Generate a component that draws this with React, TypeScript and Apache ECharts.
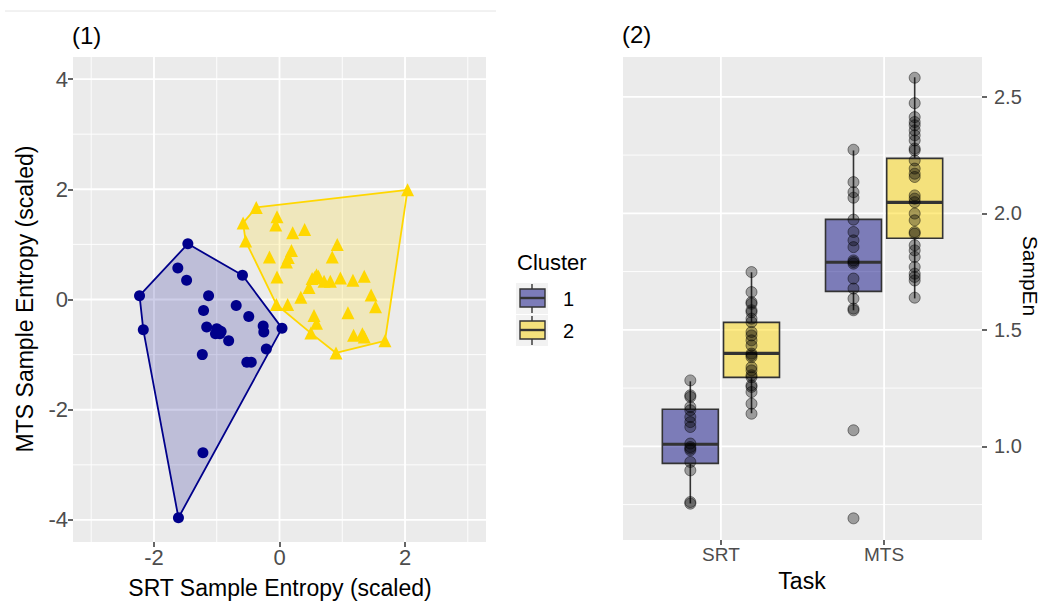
import React, { useEffect, useRef } from "react";
import * as echarts from "echarts";

// ---------- Panel (1) data: scaled sample entropy ----------
const cluster1SRT = [-1.46, -1.62, -1.48, -2.23, -2.17, -0.59, -1.13, -1.21, -0.69, -0.49, -0.26, -0.25, 0.04, -1.16, -0.97, -0.93, -1.0, -0.95, -1.02, -0.81, -1.23, -0.21, -0.52, -0.45, -1.22, -1.61];
const cluster1MTS = [1.01, 0.57, 0.35, 0.07, -0.55, 0.44, 0.07, -0.2, -0.11, -0.31, -0.48, -0.59, -0.52, -0.5, -0.56, -0.58, -0.53, -0.62, -0.62, -0.75, -1.0, -0.9, -1.14, -1.14, -2.78, -3.96];

const cluster2SRT = [2.04, -0.37, -0.58, -0.54, -0.04, -0.06, 0.21, 0.4, 0.92, 0.84, -0.16, 0.19, 0.14, 0.11, -0.04, 0.59, 0.62, 0.56, 0.52, 0.71, 0.81, 0.47, 0.97, 1.17, 1.35, 0.34, 1.46, 1.53, -0.05, 0.13, 0.55, 0.59, 0.5, 1.09, 1.18, 1.32, 1.35, 1.68, 0.9];
const cluster2MTS = [1.99, 1.67, 1.39, 1.06, 1.5, 1.35, 1.21, 1.27, 1.0, 0.77, 0.77, 0.89, 0.76, 0.68, 0.41, 0.45, 0.42, 0.4, 0.38, 0.33, 0.33, 0.22, 0.39, 0.35, 0.42, 0.04, 0.08, -0.13, -0.09, -0.09, -0.29, -0.43, -0.61, -0.24, -0.65, -0.62, -0.68, -0.75, -0.97];

const p1XTicks = [-2, 0, 2];
const p1YTicks = [-4, -2, 0, 2, 4];
const p1XMinor = [-3, -1, 1, 3];
const p1YMinor = [-3, -1, 1, 3];

// ---------- Panel (2) data: SampEn by task and cluster ----------
const tasks = ["SRT", "MTS"];
const taskPos = [1, 2];
const srtCluster1 = [1.283, 1.219, 1.212, 1.169, 1.155, 1.126, 1.104, 1.083, 1.012, 0.997, 0.99, 0.983, 0.933, 0.897, 0.761, 0.754];
const srtCluster2 = [1.748, 1.662, 1.619, 1.612, 1.584, 1.576, 1.548, 1.533, 1.491, 1.476, 1.455, 1.433, 1.398, 1.391, 1.383, 1.34, 1.326, 1.305, 1.297, 1.262, 1.255, 1.233, 1.183, 1.14];
const mtsCluster1 = [2.273, 2.134, 2.091, 2.067, 1.973, 1.92, 1.884, 1.855, 1.798, 1.791, 1.784, 1.72, 1.677, 1.634, 1.591, 1.584, 1.069, 0.691];
const mtsCluster2 = [2.582, 2.473, 2.413, 2.392, 2.378, 2.356, 2.335, 2.313, 2.278, 2.27, 2.227, 2.192, 2.17, 2.156, 2.077, 2.063, 2.048, 1.999, 1.97, 1.92, 1.913, 1.863, 1.841, 1.813, 1.77, 1.741, 1.727, 1.712, 1.638];
// [lower whisker, q1, median, q3, upper whisker]
const srtBox1 = [0.755, 0.927, 1.009, 1.159, 1.279];
const srtBox2 = [1.142, 1.296, 1.399, 1.532, 1.747];
const mtsBox1 = [1.584, 1.665, 1.79, 1.974, 2.27];
const mtsBox2 = [1.635, 1.893, 2.047, 2.236, 2.584];
const p2YTicks = [1.0, 1.5, 2.0, 2.5];
const p2YMinor = [0.75, 1.25, 1.75, 2.25];

const DODGE = 0.1875;
const BOX_W = 0.343;

const BLUE = "#00008B";
const GOLD = "#FFD700";
const BLUE_BOX = "rgba(0,0,128,0.47)";
const GOLD_BOX = "rgba(255,215,0,0.47)";
const FONT = "'Liberation Sans', Arial, sans-serif";

function zip(a: number[], b: number[]) {
  return a.map((v, i) => [v, b[i]]);
}

function convexHull(pts: number[][]) {
  const p = pts.slice().sort((a, b) => a[0] - b[0] || a[1] - b[1]);
  const cross = (o: number[], a: number[], b: number[]) =>
    (a[0] - o[0]) * (b[1] - o[1]) - (a[1] - o[1]) * (b[0] - o[0]);
  const lower: number[][] = [];
  for (const q of p) {
    while (lower.length >= 2 && cross(lower[lower.length - 2], lower[lower.length - 1], q) <= 0) lower.pop();
    lower.push(q);
  }
  const upper: number[][] = [];
  for (let i = p.length - 1; i >= 0; i--) {
    const q = p[i];
    while (upper.length >= 2 && cross(upper[upper.length - 2], upper[upper.length - 1], q) <= 0) upper.pop();
    upper.push(q);
  }
  upper.pop();
  lower.pop();
  return lower.concat(upper);
}

function gridLines(gi: number, values: number[], vertical: boolean, other: number, width: number) {
  return {
    type: "custom",
    xAxisIndex: gi,
    yAxisIndex: gi,
    z: 1,
    silent: true,
    data: values.map((v) => (vertical ? [v, other] : [other, v])),
    renderItem: (params: any, api: any) => {
      const cs = params.coordSys;
      const c = api.coord([api.value(0), api.value(1)]);
      const shape = vertical
        ? { x1: c[0], y1: cs.y, x2: c[0], y2: cs.y + cs.height }
        : { x1: cs.x, y1: c[1], x2: cs.x + cs.width, y2: c[1] };
      return { type: "line", shape, style: { stroke: "#ffffff", lineWidth: width } };
    },
  };
}

function hullSeries(hull: number[][], stroke: string, fill: string) {
  return {
    type: "custom",
    xAxisIndex: 0,
    yAxisIndex: 0,
    z: 2,
    silent: true,
    data: hull,
    renderItem: (params: any, api: any) => {
      if (params.dataIndex !== 0) return null;
      const points = hull.map((p) => api.coord(p));
      return {
        type: "polygon",
        shape: { points },
        style: { fill, stroke, lineWidth: 1.8, lineJoin: "round" },
      };
    },
  };
}

function boxSeries(items: number[][], fill: string) {
  return {
    type: "custom",
    xAxisIndex: 1,
    yAxisIndex: 1,
    z: 2,
    silent: true,
    data: items,
    renderItem: (params: any, api: any) => {
      const x = api.value(0);
      const cx = api.coord([x, 1])[0];
      const hw = api.size([BOX_W, 0])[0] / 2;
      const y = (i: number) => api.coord([x, api.value(i)])[1];
      const yMin = y(1), yQ1 = y(2), yMed = y(3), yQ3 = y(4), yMax = y(5);
      const line = { stroke: "#333333", lineWidth: 1.6 };
      return {
        type: "group",
        children: [
          { type: "line", shape: { x1: cx, y1: yMax, x2: cx, y2: yQ3 }, style: line },
          { type: "line", shape: { x1: cx, y1: yQ1, x2: cx, y2: yMin }, style: line },
          { type: "rect", shape: { x: cx - hw, y: yQ3, width: hw * 2, height: yQ1 - yQ3 }, style: { fill, stroke: "#333333", lineWidth: 1.6 } },
          { type: "line", shape: { x1: cx - hw, y1: yMed, x2: cx + hw, y2: yMed }, style: { stroke: "#333333", lineWidth: 3.2 } },
        ],
      };
    },
  };
}

function legendKey(y0: number, fill: string, label: string) {
  return {
    type: "group",
    children: [
      { type: "rect", shape: { x: 516, y: y0, width: 32, height: 31 }, style: { fill: "#f2f2f2" } },
      { type: "line", shape: { x1: 532, y1: y0 + 1, x2: 532, y2: y0 + 30 }, style: { stroke: "#333", lineWidth: 1.4 } },
      { type: "rect", shape: { x: 520, y: y0 + 6, width: 25, height: 18 }, style: { fill: "#ebebeb" } },
      { type: "rect", shape: { x: 520, y: y0 + 6, width: 25, height: 18 }, style: { fill, stroke: "#333", lineWidth: 1.4 } },
      { type: "line", shape: { x1: 520, y1: y0 + 15, x2: 545, y2: y0 + 15 }, style: { stroke: "#333", lineWidth: 2.4 } },
      { type: "text", x: 563, y: y0 + 16, style: { text: label, font: `20px ${FONT}`, fill: "#000", verticalAlign: "middle", align: "left" } },
    ],
  };
}

export default function App() {
  const ref = useRef<HTMLDivElement>(null);
  useEffect(() => {
    if (!ref.current) return;
    const chart = echarts.init(ref.current, undefined, { renderer: "svg" });
    const pts1 = zip(cluster1SRT, cluster1MTS);
    const pts2 = zip(cluster2SRT, cluster2MTS);
    const hull1 = convexHull(pts1);
    const hull2 = convexHull(pts2);

    const box1 = [
      [taskPos[0] - DODGE, ...srtBox1],
      [taskPos[1] - DODGE, ...mtsBox1],
    ];
    const box2 = [
      [taskPos[0] + DODGE, ...srtBox2],
      [taskPos[1] + DODGE, ...mtsBox2],
    ];
    const dots = [
      ...srtCluster1.map((v) => [taskPos[0] - DODGE, v]),
      ...srtCluster2.map((v) => [taskPos[0] + DODGE, v]),
      ...mtsCluster1.map((v) => [taskPos[1] - DODGE, v]),
      ...mtsCluster2.map((v) => [taskPos[1] + DODGE, v]),
    ];

    const tick = { show: true, length: 5, lineStyle: { color: "#333333", width: 1.5 } };
    const option: any = {
      animation: false,
      textStyle: { fontFamily: FONT },
      grid: [
        { left: 73, top: 57, width: 413, height: 485, show: true, backgroundColor: "#ebebeb", borderWidth: 0 },
        { left: 623, top: 57, width: 359, height: 483, show: true, backgroundColor: "#ebebeb", borderWidth: 0 },
      ],
      xAxis: [
        {
          gridIndex: 0, type: "value", min: -3.29, max: 3.29,
          axisLine: { show: false, onZero: false },
          axisTick: { ...tick, customValues: p1XTicks },
          axisLabel: { customValues: p1XTicks, fontSize: 22, color: "#4d4d4d", margin: 4 },
          splitLine: { show: false },
        },
        {
          gridIndex: 1, type: "value", min: 0.4, max: 2.6,
          axisLine: { show: false, onZero: false },
          axisTick: { ...tick, customValues: taskPos },
          axisLabel: {
            customValues: taskPos, fontSize: 19, color: "#4d4d4d", margin: 5,
            formatter: (v: number) => tasks[taskPos.indexOf(Math.round(v))] ?? "",
          },
          splitLine: { show: false },
        },
      ],
      yAxis: [
        {
          gridIndex: 0, type: "value", min: -4.4, max: 4.4,
          axisLine: { show: false, onZero: false },
          axisTick: { ...tick, customValues: p1YTicks },
          axisLabel: { customValues: p1YTicks, fontSize: 22, color: "#4d4d4d", margin: 5 },
          splitLine: { show: false },
        },
        {
          gridIndex: 1, type: "value", position: "right", min: 0.598, max: 2.671,
          axisLine: { show: false, onZero: false },
          axisTick: { ...tick, customValues: p2YTicks },
          axisLabel: {
            customValues: p2YTicks, fontSize: 20, color: "#4d4d4d", margin: 12,
            formatter: (v: number) => v.toFixed(1),
          },
          splitLine: { show: false },
        },
      ],
      series: [
        gridLines(0, p1XMinor, true, 0, 0.9),
        gridLines(0, p1YMinor, false, 0, 0.9),
        gridLines(0, p1XTicks, true, 0, 1.8),
        gridLines(0, p1YTicks, false, 0, 1.8),
        gridLines(1, p2YMinor, false, 1.5, 0.9),
        gridLines(1, taskPos, true, 1.5, 1.8),
        gridLines(1, p2YTicks, false, 1.5, 1.8),
        hullSeries(hull1, BLUE, "rgba(0,0,139,0.19)"),
        hullSeries(hull2, GOLD, "rgba(255,215,0,0.2)"),
        {
          type: "scatter", xAxisIndex: 0, yAxisIndex: 0, z: 3, silent: true,
          symbol: "circle", symbolSize: 11, data: pts1,
          itemStyle: { color: BLUE, opacity: 1 },
        },
        {
          type: "scatter", xAxisIndex: 0, yAxisIndex: 0, z: 3, silent: true,
          symbol: "triangle", symbolSize: 13, data: pts2,
          itemStyle: { color: GOLD, opacity: 1 },
        },
        boxSeries(box1, BLUE_BOX),
        boxSeries(box2, GOLD_BOX),
        {
          type: "scatter", xAxisIndex: 1, yAxisIndex: 1, z: 4, silent: true,
          symbol: "circle", symbolSize: 11, data: dots,
          itemStyle: { color: "rgba(0,0,0,0.42)", borderColor: "rgba(0,0,0,0.55)", borderWidth: 1 },
        },
      ],
      graphic: [
        { type: "line", shape: { x1: 5, y1: 11, x2: 496, y2: 11 }, style: { stroke: "#e4e4e4", lineWidth: 1 } },
        { type: "text", x: 72, y: 35, style: { text: "(1)", font: `24px ${FONT}`, fill: "#000", verticalAlign: "middle", align: "left" } },
        { type: "text", x: 622, y: 34, style: { text: "(2)", font: `24px ${FONT}`, fill: "#000", verticalAlign: "middle", align: "left" } },
        { type: "text", x: 280, y: 588, style: { text: "SRT Sample Entropy (scaled)", font: `23px ${FONT}`, fill: "#000", verticalAlign: "middle", align: "center" } },
        { type: "text", x: 25, y: 299, rotation: Math.PI / 2, style: { text: "MTS Sample Entropy (scaled)", font: `23px ${FONT}`, fill: "#000", verticalAlign: "middle", align: "center" } },
        { type: "text", x: 802, y: 581, style: { text: "Task", font: `23px ${FONT}`, fill: "#000", verticalAlign: "middle", align: "center" } },
        { type: "text", x: 1030, y: 276, rotation: -Math.PI / 2, style: { text: "SampEn", font: `21px ${FONT}`, fill: "#000", verticalAlign: "middle", align: "center" } },
        { type: "text", x: 517, y: 262, style: { text: "Cluster", font: `22px ${FONT}`, fill: "#000", verticalAlign: "middle", align: "left" } },
        legendKey(283, BLUE_BOX, "1"),
        legendKey(315, GOLD_BOX, "2"),
      ],
    };
    chart.setOption(option);
    return () => chart.dispose();
  }, []);
  return (
    <div
      ref={ref}
      style={{ position: "fixed", left: 0, top: 0, width: 1041, height: 601, background: "#fff" }}
    />
  );
}
